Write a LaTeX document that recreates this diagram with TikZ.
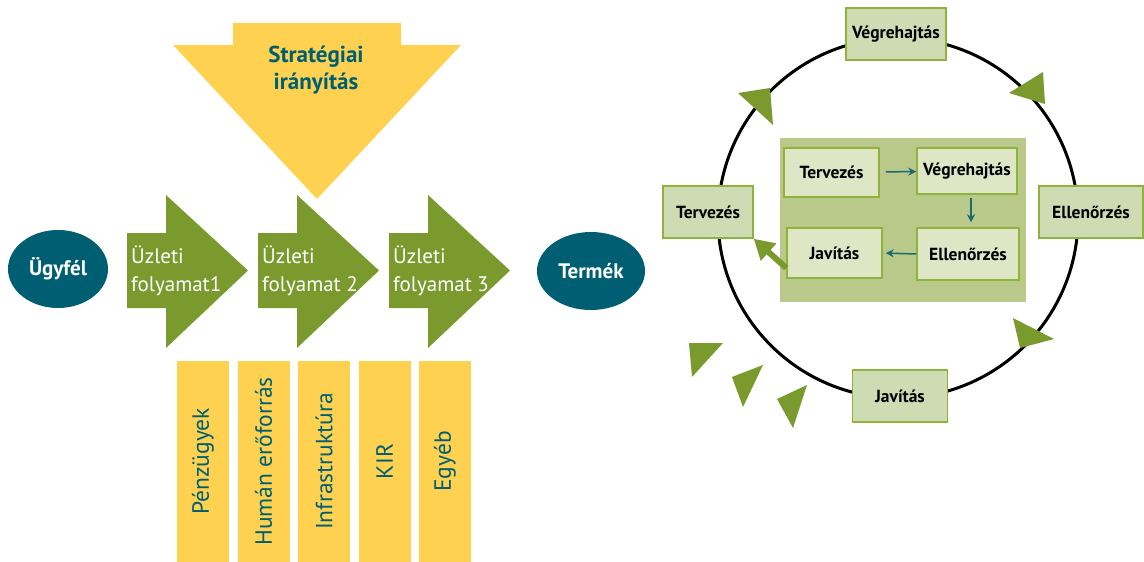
\documentclass[tikz,border=0pt]{standalone}
\usepackage{fontspec}
\setmainfont{PT Sans}
\usetikzlibrary{shapes.geometric,arrows.meta}

\definecolor{leafgreen}{HTML}{7A9A2D}
\definecolor{sunyellow}{HTML}{FED250}
\definecolor{deepteal}{HTML}{005E73}
\definecolor{boxgreen}{HTML}{CFDBB2}
\definecolor{boxline}{HTML}{8DB33A}
\definecolor{panelgreen}{HTML}{B8C98A}
\definecolor{innerfill}{HTML}{DEE6C6}
\definecolor{arrowteal}{HTML}{1B6A72}

\begin{document}
\begin{tikzpicture}[x=1pt,y=-1pt,>={Stealth[length=8pt,width=8pt]},
  end node/.style={ellipse,fill=deepteal,text=white,font=\bfseries\fontsize{21}{24}\selectfont},
  proc text/.style={anchor=west,align=left,inner sep=0,text=white,font=\fontsize{21}{28}\selectfont},
  res bar/.style={fill=sunyellow,rotate=90,minimum width=201,minimum height=52,inner sep=0,text=deepteal,font=\fontsize{23.5}{26}\selectfont},
  outer box/.style={draw=boxline,fill=boxgreen,line width=1.5,minimum height=52,inner sep=0,font=\bfseries\fontsize{17.5}{20}\selectfont},
  inner box/.style={draw=boxline,fill=innerfill,line width=1.5,inner sep=0,font=\bfseries\fontsize{17.5}{20}\selectfont},
  small arrow/.style={->,draw=arrowteal,line width=1.5},
  cycle tip/.style={fill=leafgreen}]

\useasboundingbox (0,0) rectangle (1144,562);

% strategic direction
\fill[sunyellow] (233,23) -- (401,23) -- (401,45) -- (461,45) -- (317,199) -- (173,45) -- (233,45) -- cycle;
\node[align=center,text=deepteal,font=\bfseries\fontsize{23}{27}\selectfont] (strat) at (316,70) {Stratégiai\\irányítás};

% customer, processes, product
\node[end node,minimum width=100,minimum height=78] (ugyfel) at (58,269) {Ügyfél};
\foreach \x/\n/\t in {127/p1/{Üzleti\\folyamat1},258/p2/{Üzleti\\folyamat 2},389/p3/{Üzleti\\folyamat 3}}{
  \fill[leafgreen] (\x,233) -- ({\x+39},233) -- ({\x+39},195) -- ({\x+121},270.5)
     -- ({\x+39},348) -- ({\x+39},308) -- (\x,308) -- cycle;
  \node[proc text] (\n) at ({\x+4},271) {\t};
}
\node[end node,minimum width=108,minimum height=78] (termek) at (591,271) {Termék};

% resources
\foreach \i/\t in {0/Pénzügyek,1/Humán erőforrás,2/Infrastruktúra,3/KIR,4/Egyéb}{
  \node[res bar] (bar\i) at ({203+60.5*\i},461.5) {\t};
}

% cycle
\draw[line width=3] (898,218) circle (180);
\fill[cycle tip] (738,93) -- (770,88) -- (773,125) -- cycle;
\fill[cycle tip] (1009,93) -- (1043,72) -- (1045,104) -- cycle;
\fill[cycle tip] (1013,318) -- (1054,339) -- (1020,348) -- cycle;
\fill[cycle tip] (689,343) -- (723,343) -- (692,377) -- cycle;
\fill[cycle tip] (732,377) -- (763,365) -- (743,407) -- cycle;
\fill[cycle tip] (777,399) -- (807,385) -- (793,428) -- cycle;

\node[outer box,minimum width=100] (vegre) at (896,34) {Végrehajtás};
\node[outer box,minimum width=90] (terv) at (708,212) {Tervezés};
\node[outer box,minimum width=104] (ellen) at (1091,212) {Ellenőrzés};
\node[outer box,minimum width=95] (javit) at (900,396) {Javítás};

% inner cycle
\fill[panelgreen] (780,138) rectangle (1026,302);
\node[inner box,minimum width=95,minimum height=49] (iterv) at (831.5,172.5) {Tervezés};
\node[inner box,minimum width=100,minimum height=46] (ivegre) at (967,171) {Végrehajtás};
\node[inner box,minimum width=102,minimum height=52] (iellen) at (968,254) {Ellenőrzés};
\node[inner box,minimum width=95,minimum height=50] (ijavit) at (834.5,253) {Javítás};

\draw[small arrow,shorten <=6pt] (iterv) -- (ivegre);
\draw[small arrow,shorten <=3pt,shorten >=5pt] ([xshift=4pt]ivegre.south) -- ([xshift=3pt]iellen.north);
\draw[small arrow,shorten >=3pt] (iellen.west) -- (ijavit.east);
\draw[-{Triangle[length=20pt,width=22pt]},leafgreen,line width=6] ([yshift=-15pt]ijavit.west) -- (terv.south east);
\end{tikzpicture}
\end{document}
